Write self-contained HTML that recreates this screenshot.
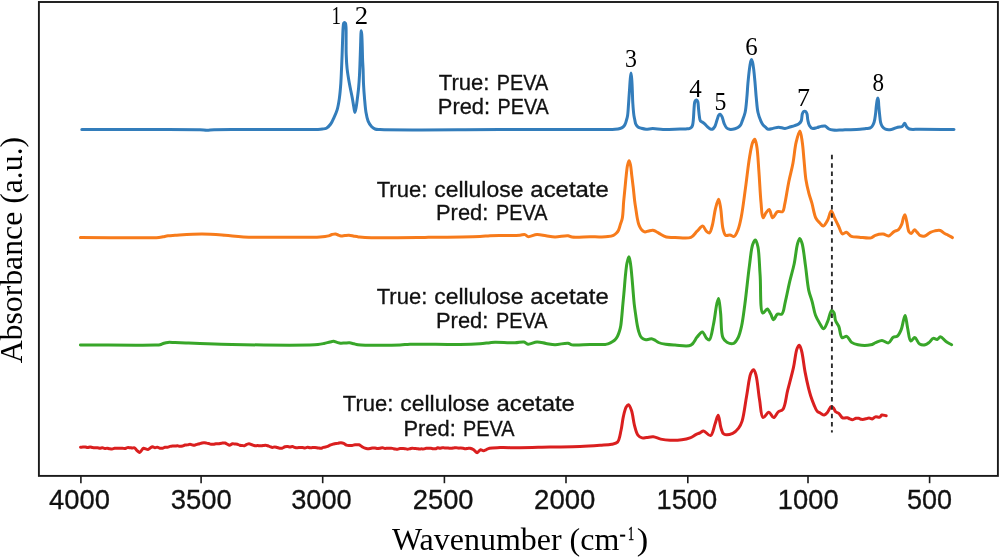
<!DOCTYPE html>
<html><head><meta charset="utf-8"><title>FTIR spectra</title>
<style>html,body{margin:0;padding:0;background:#fff;width:1000px;height:557px;overflow:hidden;font-family:"Liberation Sans",sans-serif}svg{display:block;will-change:transform}</style>
</head><body>
<svg width="1000" height="557" viewBox="0 0 1000 557"><rect x="0" y="0" width="1000" height="557" fill="#fff"/>
<path d="M81.8,129.6 C104.53,129.6 129.03,129.56 150,129.6 C167.96,129.64 190.93,129.52 200,129.8 C203.4,129.9 204.67,130.22 207,130.2 C209.33,130.18 210.64,129.82 214,129.7 C222.6,129.38 244.35,129.63 260,129.6 C276.32,129.57 300.48,129.57 310,129.5 C313.81,129.47 315.72,129.52 318,129.4 C319.72,129.31 321.06,129.21 322.5,129 C323.85,128.8 325.16,128.86 326.4,128.2 C327.92,127.39 329.45,125.71 330.7,124 C332.15,122.02 333.21,119.22 334.3,116.8 C335.37,114.42 336.4,112.32 337.2,109.6 C338.18,106.25 338.82,102.16 339.4,98.1 C340.05,93.58 340.45,88.5 340.8,83.7 C341.15,78.93 341.28,74.18 341.5,69.4 C341.72,64.61 341.92,59.85 342.1,55 C342.29,50.05 342.42,44.72 342.6,40 C342.76,35.78 342.84,31.1 343.1,28 C343.26,26.04 343.26,24.09 343.7,23.2 C343.91,22.77 344.22,22.41 344.5,22.4 C344.79,22.39 345.17,22.77 345.4,23.2 C345.82,23.96 345.86,25.35 346,27 C346.25,30.03 346.07,35.56 346.1,40 C346.13,44.68 346.03,49.61 346.2,54.4 C346.37,59.18 346.59,63.94 347.1,68.7 C347.62,73.5 348.45,78.31 349.3,83.1 C350.15,87.91 351.4,93.19 352.2,97.5 C352.84,100.99 353.3,104.27 353.8,107 C354.18,109.09 354.5,112.49 354.9,112.5 C355.3,112.51 355.81,109.09 356.2,107 C356.71,104.27 357.1,100.67 357.5,97.5 C357.9,94.34 358.28,91.42 358.6,88 C358.97,84.01 359.25,79.49 359.5,75 C359.76,70.18 359.92,65 360.1,60 C360.28,55 360.46,49.5 360.6,45 C360.72,41.33 360.77,37.62 360.9,35 C360.99,33.3 361.05,30.81 361.2,30.8 C361.33,30.79 361.56,32.61 361.7,34 C361.96,36.56 362.06,41.05 362.2,45 C362.37,49.61 362.42,55.58 362.6,60 C362.74,63.5 362.96,65.94 363.1,69.4 C363.27,73.67 363.27,78.93 363.5,83.7 C363.73,88.49 364.08,93.3 364.5,98.1 C364.92,102.9 365.28,108.34 366,112.5 C366.56,115.76 367.04,118.6 368.1,121.1 C369.03,123.28 370.37,125.43 371.7,126.8 C372.72,127.85 373.72,128.53 375,129 C376.44,129.53 377.22,129.43 380,129.6 C393.55,130.41 460.87,129.64 500,129.6 C537.46,129.57 597.11,129.54 610,129.4 C612.75,129.37 613.34,129.45 615,129.3 C616.67,129.15 618.57,128.96 620,128.5 C621.16,128.13 622.16,127.7 623,127 C623.86,126.28 624.53,125.28 625.1,124.2 C625.74,122.99 626.09,121.44 626.5,120 C626.93,118.51 627.29,117.32 627.6,115.4 C628.09,112.29 628.29,107.18 628.6,103 C628.92,98.72 629.22,94.05 629.5,90 C629.75,86.45 629.92,83.05 630.2,80 C630.43,77.43 630.73,72.9 631,72.9 C631.27,72.9 631.59,77.43 631.8,80 C632.05,83.05 632.14,86.45 632.3,90 C632.48,94.05 632.53,98.72 632.8,103 C633.07,107.19 633.46,112.28 633.9,115.4 C634.17,117.31 634.48,118.5 634.8,120 C635.11,121.44 635.22,123 635.8,124.2 C636.33,125.29 637.07,126.32 638,127 C638.94,127.69 640.16,127.95 641.4,128.3 C642.8,128.7 644.32,129.11 646,129.2 C648,129.3 650.15,128.62 652.6,128.6 C655.67,128.58 659.11,129.3 663,129.4 C667.97,129.53 675.78,129.08 680,129 C682.51,128.95 684.3,128.99 686,128.9 C687.26,128.83 688.34,128.91 689.3,128.6 C690.14,128.33 690.95,127.9 691.5,127.3 C692.05,126.7 692.32,125.94 692.6,125 C692.99,123.7 693.1,122.05 693.3,120.1 C693.6,117.23 693.74,112.61 694,109.4 C694.21,106.76 694.26,103.8 694.7,102.2 C694.94,101.34 695.21,100.64 695.6,100.3 C695.86,100.07 696.22,99.95 696.5,100 C696.79,100.05 697.08,100.31 697.3,100.6 C697.58,100.98 697.73,101.46 697.9,102.2 C698.25,103.72 698.35,107 698.6,109.4 C698.85,111.8 699.04,114.52 699.4,116.6 C699.68,118.23 699.72,119.93 700.4,120.9 C700.93,121.64 701.91,121.82 702.6,122.3 C703.24,122.75 703.75,123.12 704.4,123.7 C705.27,124.47 706.32,125.73 707.3,126.6 C708.22,127.41 709.17,128.38 710.1,128.8 C710.84,129.13 711.6,129.43 712.3,129.2 C713.19,128.91 714.09,127.76 714.8,126.6 C715.77,125 716.29,122.12 717,120.1 C717.62,118.32 718.05,116.04 718.8,115.1 C719.22,114.57 719.74,114.12 720.2,114.2 C720.82,114.31 721.45,115.53 722,116.6 C722.86,118.29 723.31,121.67 724.2,123.7 C724.93,125.36 725.67,127.06 726.7,128 C727.51,128.74 728.38,129.11 729.5,129.3 C731,129.56 733.48,129.17 735,128.8 C736.15,128.52 737.01,128.17 737.9,127.6 C738.85,126.99 739.8,126.2 740.5,125.2 C741.28,124.08 741.59,122.73 742.2,121.1 C743.07,118.77 744.36,115.78 745.1,112.5 C746.03,108.36 746.33,102.9 746.8,98.1 C747.27,93.3 747.47,88.49 747.9,83.7 C748.33,78.92 748.87,73.38 749.4,69.4 C749.78,66.52 750.14,63.82 750.6,62 C750.88,60.9 751.18,59.41 751.5,59.4 C751.82,59.39 752.2,60.89 752.5,62 C752.99,63.82 753.33,66.52 753.7,69.4 C754.22,73.38 754.67,78.92 755.1,83.7 C755.53,88.49 755.82,93.3 756.3,98.1 C756.78,102.9 757.07,108.36 758,112.5 C758.74,115.78 759.9,118.87 760.9,121.1 C761.58,122.63 762.18,123.75 763,124.8 C763.74,125.75 764.63,126.46 765.5,127.2 C766.36,127.93 767.11,128.94 768.2,129.2 C769.52,129.52 771.34,128.72 773,128.4 C774.8,128.06 776.67,127.22 778.6,127.2 C780.66,127.17 782.95,128.5 785,128.4 C786.94,128.31 788.89,127.3 790.6,126.8 C792.05,126.38 793.28,126.06 794.6,125.6 C795.94,125.13 797.49,124.79 798.6,124 C799.67,123.24 800.59,122.32 801.2,121 C802.02,119.24 801.76,115.69 802.3,114 C802.63,112.96 803,112.01 803.5,111.6 C803.82,111.33 804.22,111.3 804.6,111.3 C804.99,111.3 805.45,111.32 805.8,111.6 C806.31,112.01 806.69,112.99 807,114 C807.47,115.52 807.39,118.05 807.8,120 C808.2,121.91 808.54,124.14 809.4,125.6 C810.11,126.81 811.02,128.02 812.2,128.4 C813.5,128.82 815.48,127.95 817,127.6 C818.4,127.27 819.65,126.67 821,126.4 C822.32,126.14 823.73,125.65 825,126 C826.41,126.39 827.6,128.33 829,129 C830.28,129.61 831.47,129.8 833,130 C835,130.26 837.86,130.15 840,130.1 C841.81,130.06 842.89,129.9 845,129.8 C848.66,129.63 856.13,129.59 860,129.3 C862.45,129.12 864.2,128.84 866,128.6 C867.47,128.4 868.92,128.45 870,128 C870.87,127.63 871.48,127.15 872.1,126.4 C872.91,125.41 873.57,123.94 874.1,122.3 C874.81,120.12 875.13,116.98 875.5,114.3 C875.87,111.62 876.01,108.66 876.3,106.2 C876.55,104.13 876.79,102.02 877.1,100.5 C877.31,99.46 877.58,97.9 877.8,97.9 C878.02,97.9 878.24,99.46 878.4,100.5 C878.63,102.02 878.63,104.13 878.8,106.2 C879.01,108.66 879.3,111.61 879.6,114.3 C879.9,116.98 880.04,120.1 880.6,122.3 C881.01,123.92 881.39,125.24 882.2,126.4 C883,127.54 884.05,128.65 885.4,129.2 C887,129.85 889.41,129.8 891.4,129.5 C893.51,129.18 895.75,127.7 897.7,127.2 C899.3,126.79 901.02,127.2 902.2,126.5 C903.32,125.83 903.95,123.15 904.7,123.2 C905.45,123.25 905.87,125.81 906.7,126.8 C907.46,127.71 908.09,128.52 909.4,129 C911.69,129.84 915.47,129.13 920,129.2 C928.12,129.32 942.67,129.47 954,129.6" fill="none" stroke="#337dbb" stroke-width="3.0" stroke-linejoin="round" stroke-linecap="round"/>
<path d="M80.4,237.5 C106.6,237.5 149.37,238.34 159,237.5 C161.19,237.31 161.59,237.06 163,236.8 C164.58,236.5 166.19,236.05 168,235.8 C170.13,235.51 171.91,235.48 175,235.3 C181.07,234.94 193.36,233.98 202,234 C209.97,234.02 217.76,234.68 225,235.2 C231.51,235.67 235.44,236.51 243.5,236.9 C258.64,237.63 296.31,237.29 309,237.2 C314.2,237.16 316.57,237.25 320,237 C323.05,236.78 326.42,236.48 328.6,235.9 C330.02,235.52 330.84,234.83 332,234.5 C333.14,234.17 334.4,233.77 335.5,233.9 C336.56,234.03 337.53,234.86 338.5,235.2 C339.36,235.51 340.06,235.82 341,235.9 C342.17,236 343.67,235.6 345,235.5 C346.33,235.4 347.6,235.21 349,235.3 C350.58,235.4 352.38,235.93 354,236.2 C355.54,236.46 356.86,236.7 358.5,236.9 C360.46,237.14 361.73,237.35 365,237.5 C374.9,237.95 405.44,237.58 425,237.4 C443.73,237.23 469.04,237.03 480,236.5 C484.68,236.27 486.33,235.87 490,235.7 C494.49,235.49 500,235.58 505,235.5 C510,235.42 516.34,235.46 520,235.2 C522.12,235.05 523.6,234.26 525,234.6 C526.19,234.88 526.66,236.35 528,236.6 C530.14,237 533.99,234.73 537,234.6 C539.99,234.47 543,235.42 546,235.8 C549,236.18 551.72,236.84 555,236.9 C558.93,236.97 564.93,235.45 568,235.8 C569.74,236 570.16,236.82 572,237.1 C575.81,237.67 584.88,236.82 590,236.8 C593.82,236.79 596.85,236.94 600,236.9 C602.82,236.86 605.61,236.93 608,236.6 C609.99,236.33 611.91,236 613.4,235.3 C614.65,234.72 615.63,233.88 616.5,233 C617.32,232.17 617.91,231.37 618.5,230.2 C619.31,228.59 619.85,226.02 620.5,224 C621.12,222.06 621.82,220.74 622.3,218.3 C623.11,214.16 623.22,206.53 623.7,201.2 C624.12,196.51 624.58,192.33 625,188 C625.41,183.8 625.75,179.57 626.2,175.6 C626.62,171.92 626.95,167.7 627.6,165 C628.02,163.25 628.62,160.79 629.1,160.8 C629.58,160.81 630.11,163.26 630.5,165 C631.11,167.71 631.35,171.93 631.8,175.6 C632.28,179.57 632.82,183.8 633.3,188 C633.79,192.33 634.2,197.25 634.7,201.2 C635.11,204.43 635.56,207.11 636,210 C636.43,212.81 636.79,215.74 637.3,218.3 C637.74,220.53 638.16,222.69 638.8,224.5 C639.33,226.01 639.94,227.37 640.7,228.5 C641.37,229.49 642.2,230.42 643,231 C643.64,231.46 644.23,231.83 645,231.9 C645.99,231.99 647.28,231.27 648.5,231 C649.83,230.7 651.4,230.08 652.7,230.2 C653.88,230.31 654.91,230.96 656,231.5 C657.17,232.08 658.12,232.84 659.5,233.6 C661.38,234.63 663.82,236.35 666.3,237 C668.95,237.69 671.67,237.32 675,237.4 C679.51,237.5 687.04,239 690.9,237.4 C693.76,236.21 695.06,233.14 697.1,231.2 C698.99,229.39 701.1,225.94 702.7,226.1 C704.16,226.25 705.08,230.04 706.4,231.2 C707.39,232.07 708.63,233.23 709.5,232.9 C710.85,232.39 711.53,228.16 712.4,225 C713.63,220.54 714.29,213.18 715.5,208.5 C716.43,204.92 717.73,199.16 718.6,199.2 C719.46,199.24 720.06,204.77 720.7,208.5 C721.64,214.02 721.8,224.38 723.1,229.2 C723.84,231.94 724.41,234.58 725.8,235.4 C726.9,236.05 728.63,234.84 730,235 C731.39,235.16 732.89,236.86 734.1,236.4 C735.77,235.77 737.07,232.01 738.2,229.2 C739.6,225.71 740.31,221.83 741.3,216.8 C742.8,209.2 744.14,197.71 745.5,187.9 C746.91,177.75 748.15,165.27 749.6,156.9 C750.6,151.14 751.43,145.39 752.7,142.4 C753.34,140.9 754.19,139.2 754.8,139.3 C755.66,139.44 756.23,143.35 756.8,146.5 C757.83,152.26 758.23,162.57 758.9,171.3 C759.64,181.05 760.16,193.75 761,202.3 C761.6,208.36 761.72,217.53 763,217.8 C763.8,217.97 764.97,214.05 766.1,212.6 C767.06,211.36 768.26,209.32 769.2,209.5 C770.55,209.76 771.25,217.61 772.7,217.8 C774.05,217.98 775.62,212.52 777.5,211.6 C779.02,210.86 781.41,212.49 782.6,211.6 C784.05,210.52 783.97,207.5 784.7,204.4 C785.98,198.97 787.34,188.89 788.8,181.7 C790.13,175.15 791.8,169.41 793,163 C794.25,156.32 794.71,148.21 796.1,142.4 C797.16,137.99 798.86,130.94 799.9,131 C800.92,131.06 801.65,138.18 802.3,142.4 C803.09,147.57 803.42,153.82 804,159.8 C804.62,166.16 804.97,173.53 805.9,179.5 C806.69,184.56 807.8,189.19 808.9,193.4 C809.83,196.97 810.87,199.59 811.9,203.2 C813.16,207.62 814.04,214.5 815.8,218 C816.94,220.27 818.44,221.6 819.8,223 C820.95,224.19 822.14,226.13 823.3,226 C824.78,225.83 826.44,222.29 827.7,220 C829.13,217.4 829.98,211.15 831.2,211.1 C832.29,211.05 833.43,215.61 834.6,218 C835.86,220.57 837.18,223.35 838.5,226 C839.82,228.65 840.84,233.28 842.5,233.9 C843.64,234.33 845.08,232.1 846.4,232.3 C848.04,232.55 849.4,235.57 851.4,236.4 C853.62,237.32 856.41,236.97 859.3,237.2 C862.82,237.48 868.11,238.6 871,237.9 C872.91,237.44 873.66,235.94 875.4,235.3 C877.55,234.51 880.77,233.79 883.1,234 C885.11,234.18 886.84,236.29 888.6,236 C890.53,235.68 892.3,232.7 894.1,231.6 C895.59,230.68 897.27,230.7 898.5,229.6 C899.92,228.34 900.97,226.08 901.8,224.1 C902.65,222.06 902.85,219.19 903.5,217.5 C903.93,216.37 904.46,214.75 904.9,214.8 C905.59,214.88 906.17,219.33 906.8,221.9 C907.54,224.92 907.83,229.96 909,231.8 C909.61,232.77 910.43,233.57 911.2,233.5 C912.23,233.4 913.43,229.84 914.5,229.8 C915.43,229.76 916.26,231.48 917.2,232.4 C918.25,233.43 919.19,235.11 920.5,235.7 C921.77,236.28 923.42,236.39 924.9,236 C926.71,235.53 928.62,233.27 930.4,232.4 C931.9,231.67 933.23,231.22 934.8,230.9 C936.51,230.55 938.64,230.05 940.3,230.5 C941.93,230.94 943.31,232.7 944.7,233.5 C945.85,234.17 946.83,234.49 948,235.1 C949.37,235.82 950.93,236.77 952.4,237.6" fill="none" stroke="#f77b1b" stroke-width="3.0" stroke-linejoin="round" stroke-linecap="round"/>
<path d="M80.4,344.9 C105.27,344.97 144.77,345.39 155,345.1 C157.65,345.02 158.45,345.15 160,344.8 C161.44,344.48 162.65,343.6 164,343.2 C165.32,342.81 166.47,342.53 168,342.4 C170,342.23 172.4,342.52 175,342.6 C178.25,342.71 182.11,342.86 186,343 C190.39,343.16 194.38,343.31 200,343.5 C208.49,343.78 219.03,344.26 232,344.5 C252.12,344.88 295.92,345.25 309,345 C313.47,344.92 315.31,344.9 318,344.6 C320.21,344.35 322.01,343.93 324,343.5 C326.01,343.07 328.26,342.39 330,342 C331.32,341.7 332.34,341.24 333.5,341.3 C334.67,341.36 335.83,342.08 337,342.4 C338.16,342.71 339.25,343.09 340.5,343.2 C341.9,343.33 343.5,343.07 345,343 C346.5,342.93 348.01,342.67 349.5,342.8 C351.01,342.93 352.54,343.47 354,343.8 C355.37,344.11 355.94,344.46 358,344.7 C364.58,345.46 390.82,345.33 400,345 C404.49,344.84 405.39,344.37 410,344.2 C420.3,343.83 447.09,344.81 460,344.6 C468.17,344.47 474.48,344.21 480,343.8 C483.91,343.51 487.24,342.96 490,342.7 C491.95,342.51 492.78,342.36 495,342.3 C499.44,342.18 509.65,342.97 515,342.8 C518.59,342.69 521.66,341.51 524,342 C525.67,342.35 526.35,343.98 528,344.2 C530.35,344.51 533.99,342.13 537,342 C539.99,341.87 543,342.95 546,343.4 C549,343.85 551.72,344.65 555,344.7 C558.93,344.76 564.95,342.76 568,343.2 C569.76,343.45 570.13,344.54 572,344.9 C575.8,345.63 584.27,344.58 590,344.5 C595.23,344.42 601.92,344.67 605,344.4 C606.39,344.28 606.92,344.25 608,343.9 C609.42,343.44 611.38,342.47 612.7,341.6 C613.81,340.87 614.7,340.11 615.5,339.2 C616.29,338.3 616.89,337.38 617.5,336.2 C618.26,334.74 618.95,332.79 619.5,331 C620.06,329.19 620.39,327.89 620.8,325.4 C621.59,320.57 622.29,310.29 622.9,303.9 C623.39,298.76 623.79,294.57 624.2,290 C624.59,285.57 624.84,281.33 625.3,276.9 C625.77,272.33 626.22,266.68 627,263 C627.53,260.49 628.33,256.78 628.9,256.8 C629.46,256.82 629.97,260.5 630.4,263 C631.04,266.69 631.46,272.33 631.9,276.9 C632.32,281.33 632.62,285.57 633,290 C633.39,294.56 633.72,299.53 634.2,303.9 C634.63,307.81 635.17,311.36 635.7,315 C636.21,318.53 636.73,322.4 637.3,325.4 C637.74,327.71 638.13,329.62 638.7,331.5 C639.21,333.19 639.69,334.93 640.5,336.2 C641.18,337.28 642.05,338.2 643,338.8 C643.87,339.36 644.91,339.73 645.9,339.8 C646.91,339.87 647.95,339.35 649,339.2 C650.05,339.05 651.15,338.71 652.2,338.9 C653.32,339.1 654.45,339.9 655.5,340.5 C656.55,341.1 657.22,341.94 658.5,342.5 C660.33,343.31 663.13,343.88 665.7,344.3 C668.58,344.77 671.48,344.85 675,345 C679.59,345.2 687.11,347.04 690.9,345.2 C693.94,343.72 695.05,339.44 697.1,337.1 C698.84,335.11 700.75,331.74 702.3,331.9 C703.86,332.06 705,336.74 706.4,338.1 C707.35,339.02 708.44,340.24 709.3,339.9 C711.19,339.15 712.3,329.79 713.5,324.2 C714.85,317.92 715.69,308.62 716.8,304 C717.4,301.53 718.07,298.35 718.6,298.4 C719.44,298.47 719.97,307.49 720.6,313 C721.42,320.15 720.83,332.94 722.9,337.7 C723.92,340.04 725.19,341.26 726.9,342.2 C728.73,343.21 731.84,344.03 733.7,343.3 C735.59,342.56 736.89,340.02 738.1,337.7 C739.65,334.72 740.5,330.92 741.5,326.5 C742.89,320.34 743.76,312.49 744.9,304 C746.38,292.97 747.92,276.76 749.4,265.9 C750.51,257.76 751.12,248.98 752.7,244.6 C753.48,242.44 754.59,240.03 755.4,240.1 C756.35,240.19 757.22,243.73 757.9,246.8 C759.25,252.89 759.35,264.82 760.1,274.9 C760.98,286.63 759.84,311.79 762.8,313 C763.98,313.48 765.99,308.83 767.3,309 C768.62,309.17 769.66,312.33 770.7,314.1 C771.76,315.9 772.51,319.64 773.6,319.7 C774.73,319.77 775.82,314.94 777.4,314.1 C778.69,313.42 780.71,315.01 781.9,314.1 C783.91,312.57 784.16,306.42 785.3,301.8 C786.75,295.91 788.17,288.12 789.7,281.6 C791.14,275.44 792.91,269.87 794.2,263.7 C795.56,257.2 796.28,247.92 797.6,243.5 C798.28,241.22 799.05,238.51 799.8,238.5 C800.55,238.49 801.4,241.17 802.1,243.5 C803.52,248.23 804.41,258.25 805.5,265.9 C806.65,273.93 807.37,284.02 808.8,290.6 C809.78,295.11 811.13,297.88 812.2,301.8 C813.37,306.07 814.06,311.47 815.5,315.3 C816.65,318.36 818.15,320.84 819.6,323.2 C820.87,325.28 822.32,328.87 823.6,328.8 C825,328.72 826.37,324.32 827.6,321.6 C829.08,318.33 830.16,310.72 831.6,310.4 C832.37,310.23 833.38,311.64 834,312.8 C834.96,314.6 834.71,318.43 835.6,320.8 C836.39,322.9 837.85,324.14 838.8,326.4 C840.08,329.43 840.1,336.53 842,337.6 C843.24,338.3 845.34,335.82 846.8,336.3 C848.62,336.9 849.65,340.98 851.6,342.4 C853.43,343.74 855.45,344.34 858,344.8 C861.49,345.43 867.61,345.47 870.8,344.8 C872.84,344.37 873.87,343.37 875.6,342.7 C877.57,341.93 879.87,340.47 882,340.5 C884.14,340.53 886.56,343.37 888.4,342.9 C890.31,342.41 891.5,338.35 893.2,337.3 C894.47,336.51 896.02,337.18 897.2,336.3 C898.82,335.09 900.16,332.12 901.2,329.6 C902.37,326.76 902.82,322.59 903.6,320 C904.14,318.2 904.68,315.46 905.2,315.5 C906.04,315.56 906.68,323.8 907.6,328 C908.54,332.33 909.08,340.56 910.8,341.1 C911.88,341.44 913.48,337.46 914.8,337.6 C916.42,337.77 917.66,342.85 919.6,344 C921.23,344.96 923.54,345.13 925.2,344.8 C926.71,344.5 927.92,343.4 929.2,342.4 C930.6,341.3 931.75,338.78 933.2,338.4 C934.44,338.07 936,339.76 937.2,339.5 C938.4,339.24 939.19,336.8 940.4,336.8 C942.01,336.81 944.07,340.24 946,341.6 C947.81,342.87 949.73,343.73 951.6,344.8" fill="none" stroke="#38a629" stroke-width="3.0" stroke-linejoin="round" stroke-linecap="round"/>
<path d="M80.5,447.2 C81.3,447.16 82.1,447.11 82.9,447.07 C83.7,447.02 84.51,446.86 85.3,446.94 C86.11,447.01 86.9,447.54 87.7,447.55 C88.5,447.55 89.3,446.98 90.1,446.97 C90.9,446.96 91.69,447.37 92.5,447.5 C93.32,447.64 94.17,447.72 95,447.77 C95.83,447.83 96.67,447.75 97.5,447.82 C98.34,447.89 99.17,448.19 100,448.2 C100.81,448.21 101.61,447.82 102.4,447.87 C103.21,447.93 103.99,448.48 104.8,448.53 C105.6,448.58 106.4,448.13 107.2,448.17 C108,448.21 108.79,448.63 109.6,448.77 C110.4,448.9 111.19,449.06 112,449 C112.86,448.93 113.74,448.47 114.62,448.33 C115.49,448.19 116.37,448.15 117.25,448.15 C118.12,448.15 119,448.31 119.88,448.32 C120.75,448.33 121.65,448.17 122.5,448.2 C123.32,448.23 124.11,448.57 124.9,448.48 C125.71,448.39 126.49,447.76 127.3,447.63 C128.09,447.5 128.9,447.59 129.7,447.66 C130.5,447.72 131.3,448 132.1,448.02 C132.9,448.04 133.75,447.51 134.5,447.8 C135.44,448.16 136.19,449.8 137.1,450.59 C137.93,451.31 138.8,452.5 139.7,452.4 C140.91,452.26 142.3,448.53 143.5,448.2 C144.28,447.99 145,448.68 145.75,448.88 C146.5,449.08 147.28,449.53 148,449.4 C148.78,449.26 149.49,448.39 150.25,447.94 C150.99,447.49 151.72,446.74 152.5,446.7 C153.3,446.65 154.15,447.65 155,447.72 C155.82,447.8 156.68,447.13 157.5,447.2 C158.34,447.27 159.15,448.03 160,448.2 C160.82,448.37 161.68,448.4 162.5,448.26 C163.35,448.11 164.15,447.48 165,447.3 C165.82,447.13 166.68,447.34 167.5,447.2 C168.34,447.05 169.16,446.61 170,446.41 C170.83,446.21 171.66,446.05 172.5,445.98 C173.33,445.91 174.17,446.03 175,446 C175.83,445.97 176.67,445.73 177.5,445.79 C178.34,445.85 179.16,446.31 180,446.35 C180.83,446.38 181.68,446.21 182.5,446 C183.35,445.78 184.15,445.23 185,445.05 C185.82,444.87 186.67,445.03 187.5,444.89 C188.34,444.75 189.19,444.19 190,444.2 C190.77,444.21 191.49,444.69 192.25,444.85 C192.99,445.02 193.74,445.27 194.5,445.2 C195.32,445.12 196.16,444.56 197,444.33 C197.83,444.09 198.67,444.01 199.5,443.79 C200.34,443.56 201.18,443.16 202,443 C202.76,442.85 203.5,442.8 204.25,442.82 C205,442.84 205.75,442.99 206.5,443.12 C207.25,443.24 208,443.4 208.75,443.58 C209.5,443.76 210.22,444.09 211,444.2 C211.8,444.31 212.67,444.3 213.5,444.23 C214.34,444.16 215.16,443.88 216,443.79 C216.83,443.7 217.62,443.79 218.5,443.7 C219.52,443.6 220.66,443.26 221.75,443.15 C222.83,443.03 224.04,442.78 225,443 C225.85,443.19 226.49,443.82 227.25,444.19 C227.99,444.56 228.7,445.22 229.5,445.2 C230.43,445.18 231.53,443.86 232.5,443.7 C233.32,443.57 234.1,443.95 234.9,444.05 C235.7,444.14 236.51,444.09 237.3,444.28 C238.11,444.47 238.89,445.02 239.7,445.22 C240.49,445.42 241.3,445.44 242.1,445.52 C242.9,445.6 243.74,445.87 244.5,445.7 C245.29,445.52 245.98,444.76 246.75,444.42 C247.48,444.1 248.2,443.69 249,443.7 C249.93,443.72 251,444.45 252,444.78 C253,445.11 254.02,445.57 255,445.7 C255.89,445.82 256.75,445.58 257.62,445.6 C258.5,445.63 259.38,445.87 260.25,445.86 C261.13,445.86 262,445.69 262.88,445.58 C263.75,445.47 264.66,445.17 265.5,445.2 C266.28,445.23 267.01,445.47 267.75,445.72 C268.51,445.97 269.23,446.4 270,446.7 C270.78,447 271.6,447.5 272.4,447.53 C273.2,447.56 274,446.88 274.8,446.88 C275.6,446.88 276.4,447.29 277.2,447.51 C278,447.73 278.79,448.07 279.6,448.18 C280.39,448.29 281.18,448.39 282,448.2 C282.97,447.97 284.02,446.98 285,446.7 C285.85,446.45 286.67,446.41 287.5,446.45 C288.34,446.49 289.16,446.93 290,446.95 C290.83,446.98 291.68,446.52 292.5,446.59 C293.34,446.67 294.16,447.24 295,447.42 C295.82,447.59 296.67,447.64 297.5,447.66 C298.33,447.67 299.17,447.51 300,447.5 C300.83,447.49 301.67,447.51 302.5,447.58 C303.34,447.65 304.17,447.96 305,447.91 C305.84,447.87 306.66,447.33 307.5,447.3 C308.33,447.26 309.16,447.66 310,447.71 C310.83,447.77 311.67,447.64 312.5,447.6 C313.33,447.57 314.13,447.46 315,447.5 C315.96,447.55 317,447.82 318,447.94 C319,448.05 320.08,448.32 321,448.2 C321.82,448.1 322.49,447.59 323.25,447.4 C323.99,447.22 324.76,447.23 325.5,447.07 C326.26,446.91 327.02,446.74 327.75,446.44 C328.52,446.12 329.24,445.54 330,445.2 C330.74,444.87 331.5,444.67 332.25,444.42 C333,444.17 333.67,443.87 334.5,443.7 C335.47,443.5 336.67,443.55 337.75,443.38 C338.84,443.21 339.97,442.67 341,442.7 C341.96,442.73 342.86,443.07 343.75,443.47 C344.7,443.89 345.54,444.85 346.5,445.2 C347.38,445.52 348.33,445.52 349.25,445.57 C350.16,445.62 351.07,445.62 352,445.5 C352.98,445.37 353.92,444.92 355,444.8 C356.23,444.66 357.81,444.46 359,444.8 C360.12,445.12 360.99,446.09 362,446.66 C362.99,447.22 364.02,447.85 365,448.2 C365.85,448.5 366.66,448.68 367.5,448.74 C368.33,448.8 369.17,448.68 370,448.55 C370.84,448.42 371.66,448.04 372.5,447.96 C373.33,447.89 374.17,448 375,448.07 C375.83,448.14 376.67,448.36 377.5,448.39 C378.33,448.41 379.17,448.3 380,448.2 C380.84,448.1 381.67,447.77 382.5,447.81 C383.34,447.84 384.16,448.35 385,448.42 C385.83,448.49 386.67,448.25 387.5,448.23 C388.33,448.22 389.17,448.29 390,448.31 C390.83,448.34 391.67,448.27 392.5,448.38 C393.34,448.5 394.16,448.86 395,449 C395.83,449.14 396.67,449.33 397.5,449.25 C398.34,449.16 399.16,448.6 400,448.49 C400.82,448.38 401.67,448.54 402.5,448.57 C403.33,448.6 404.17,448.58 405,448.68 C405.84,448.78 406.67,449.16 407.5,449.16 C408.33,449.16 409.18,448.86 410,448.7 C410.79,448.54 411.54,448.22 412.31,448.2 C413.07,448.18 413.84,448.49 414.62,448.57 C415.38,448.64 416.16,448.57 416.92,448.64 C417.69,448.71 418.46,448.93 419.23,448.97 C420,449 420.77,448.88 421.54,448.86 C422.31,448.84 423.08,448.98 423.85,448.87 C424.62,448.76 425.38,448.28 426.15,448.19 C426.92,448.1 427.69,448.3 428.46,448.3 C429.23,448.3 430,448.13 430.77,448.2 C431.54,448.27 432.3,448.64 433.08,448.74 C433.84,448.83 434.63,448.92 435.38,448.78 C436.17,448.64 436.91,447.95 437.69,447.85 C438.45,447.77 439.23,448.2 440,448.2 C440.77,448.2 441.54,447.89 442.31,447.84 C443.07,447.8 443.85,447.89 444.62,447.91 C445.38,447.92 446.16,447.86 446.92,447.91 C447.69,447.95 448.46,448.12 449.23,448.18 C450,448.25 450.77,448.34 451.54,448.3 C452.31,448.26 453.08,448.05 453.85,447.94 C454.61,447.83 455.39,447.63 456.15,447.65 C456.93,447.68 457.69,448.04 458.46,448.11 C459.23,448.18 460,448.03 460.77,448.06 C461.54,448.08 462.31,448.17 463.08,448.27 C463.85,448.38 464.61,448.68 465.38,448.7 C466.15,448.72 466.92,448.49 467.69,448.41 C468.46,448.33 469.16,448.07 470,448.2 C471.11,448.36 472.54,448.99 473.7,449.7 C474.95,450.46 476.06,452.72 477.2,452.7 C478.32,452.68 479.36,449.92 480.5,449.7 C481.47,449.51 482.51,450.83 483.5,450.8 C484.51,450.77 485.5,449.95 486.5,449.52 C487.5,449.08 488.16,448.52 489.5,448.2 C491.9,447.62 495.94,447.71 500,447.6 C505.6,447.45 512.66,447.76 520,447.7 C528.99,447.63 540,447.28 550,447.1 C560,446.92 571.01,446.97 580,446.6 C587.34,446.3 594.22,445.76 600,445.3 C604.42,444.95 608.51,444.91 611.7,444.2 C614.01,443.68 616.03,443.66 617.5,442.1 C619.57,439.92 620.04,434.59 621,430.5 C622.04,426.06 622.42,420.59 623.4,416.4 C624.21,412.95 625.02,409.08 626.2,407.1 C626.88,405.96 627.76,404.68 628.5,404.8 C629.55,404.96 630.63,408.13 631.5,410.6 C632.84,414.4 633.37,421.39 634.6,425.8 C635.58,429.32 636.3,433.05 637.9,435.1 C639.04,436.57 640.6,437.51 642.1,437.9 C643.54,438.27 645.03,437.66 646.7,437.5 C648.7,437.31 651.06,436.58 653.3,436.8 C655.72,437.04 658.06,438.53 660.7,439.1 C663.62,439.74 666.79,440.16 670.1,440.3 C673.78,440.46 678.27,440.28 681.8,439.8 C684.8,439.39 687.56,438.83 690,437.9 C692.16,437.07 694.01,435.6 695.8,434.7 C697.3,433.95 698.68,433.46 700,432.8 C701.23,432.19 702.16,430.84 703.5,430.9 C705.46,430.99 708.64,436.18 710.5,435.6 C712.8,434.88 713.82,427.15 715.2,423.5 C716.33,420.51 717.31,415.24 718.2,415.3 C719.29,415.37 719.84,424.7 721,428.1 C721.82,430.5 722.13,433.03 723.8,434 C725.76,435.13 730.18,434.37 732.7,433.3 C735.06,432.3 737.03,430.14 738.6,428.1 C740.16,426.07 741.05,424.27 742.1,421.1 C744.02,415.32 745.18,403.65 746.7,395.4 C748.11,387.73 749.02,377.29 750.9,373.2 C751.74,371.38 752.89,369.58 753.7,369.7 C754.67,369.84 755.37,372.9 756.1,375.6 C757.54,380.92 758.32,392.63 759.6,400.1 C760.69,406.44 760.89,416.89 763.1,417.6 C764.57,418.07 767.11,412.11 768.9,412.2 C770.6,412.29 772.05,417.63 773.6,417.6 C775.18,417.57 776.58,413.2 778.3,411.8 C779.73,410.63 781.61,411.03 782.9,409.4 C785.38,406.26 785.94,397.27 787.6,390.7 C789.45,383.36 791.88,374.76 793.5,367.4 C794.94,360.85 795.52,352.38 797,348.7 C797.7,346.97 798.6,345.13 799.3,345.2 C800.16,345.29 800.88,348.41 801.6,351 C802.93,355.79 803.85,365.53 805.1,372.1 C806.2,377.9 807.5,383.97 808.6,388.4 C809.37,391.49 809.94,393.55 810.8,396.2 C811.72,399.02 812.86,402.16 814,404.8 C815.01,407.15 815.87,409.88 817.2,411.3 C818.16,412.33 819.36,412.59 820.5,413.2 C821.69,413.83 823.04,415.14 824.2,415 C825.38,414.86 826.45,413.48 827.5,412.3 C828.85,410.79 830.05,406.59 831.3,406.4 C832.17,406.27 833.19,407.72 833.9,408.6 C834.63,409.51 834.78,411 835.6,411.8 C836.42,412.6 837.77,412.59 838.8,413.4 C840.12,414.44 841.34,417.31 842.6,417.9 C843.4,418.28 844.2,417.96 845,417.93 C845.8,417.9 846.62,417.56 847.4,417.7 C848.23,417.85 849.02,418.56 849.85,418.89 C850.66,419.22 851.4,419.72 852.3,419.7 C853.41,419.68 854.85,418.51 856,418.3 C856.95,418.13 857.81,418.15 858.7,418.31 C859.61,418.47 860.5,419.15 861.4,419.3 C862.24,419.45 863.09,419.38 863.93,419.27 C864.78,419.17 865.63,418.9 866.47,418.67 C867.31,418.45 868.11,417.88 869,417.9 C870.01,417.92 871.16,419.13 872.2,419 C873.3,418.86 874.2,417.21 875.4,416.9 C876.68,416.57 878.57,417.62 879.7,417.2 C880.66,416.84 880.95,415.29 881.9,415 C883.03,414.65 884.77,415.53 886.2,415.8" fill="none" stroke="#da1f1f" stroke-width="3.0" stroke-linejoin="round" stroke-linecap="round"/>
<line x1="831.9" y1="154.8" x2="831.9" y2="432.5" stroke="#2b2b2b" stroke-width="1.9" stroke-dasharray="4.5 3.85"/>
<rect x="38.9" y="2" width="959" height="473.9" fill="none" stroke="#1a1a1a" stroke-width="1.9"/>
<line x1="80.9" y1="475.9" x2="80.9" y2="483.2" stroke="#1a1a1a" stroke-width="1.6"/>
<line x1="201.1" y1="475.9" x2="201.1" y2="483.2" stroke="#1a1a1a" stroke-width="1.6"/>
<line x1="322.7" y1="475.9" x2="322.7" y2="483.2" stroke="#1a1a1a" stroke-width="1.6"/>
<line x1="444.4" y1="475.9" x2="444.4" y2="483.2" stroke="#1a1a1a" stroke-width="1.6"/>
<line x1="566.0" y1="475.9" x2="566.0" y2="483.2" stroke="#1a1a1a" stroke-width="1.6"/>
<line x1="687.8" y1="475.9" x2="687.8" y2="483.2" stroke="#1a1a1a" stroke-width="1.6"/>
<line x1="808.0" y1="475.9" x2="808.0" y2="483.2" stroke="#1a1a1a" stroke-width="1.6"/>
<line x1="929.6" y1="475.9" x2="929.6" y2="483.2" stroke="#1a1a1a" stroke-width="1.6"/>
<text x="49.10" y="508.95000000000005" font-family="Liberation Sans" font-size="27.2" textLength="60.87" lengthAdjust="spacingAndGlyphs" fill="#111" stroke="#111" stroke-width="0.3">4000</text>
<text x="170.75" y="508.95000000000005" font-family="Liberation Sans" font-size="27.2" textLength="61.02" lengthAdjust="spacingAndGlyphs" fill="#111" stroke="#111" stroke-width="0.3">3500</text>
<text x="291.26" y="508.95000000000005" font-family="Liberation Sans" font-size="27.2" textLength="60.50" lengthAdjust="spacingAndGlyphs" fill="#111" stroke="#111" stroke-width="0.3">3000</text>
<text x="412.78" y="508.95000000000005" font-family="Liberation Sans" font-size="27.2" textLength="60.79" lengthAdjust="spacingAndGlyphs" fill="#111" stroke="#111" stroke-width="0.3">2500</text>
<text x="534.07" y="508.95000000000005" font-family="Liberation Sans" font-size="27.2" textLength="61.31" lengthAdjust="spacingAndGlyphs" fill="#111" stroke="#111" stroke-width="0.3">2000</text>
<text x="656.47" y="508.95000000000005" font-family="Liberation Sans" font-size="27.2" textLength="60.70" lengthAdjust="spacingAndGlyphs" fill="#111" stroke="#111" stroke-width="0.3">1500</text>
<text x="777.87" y="508.95000000000005" font-family="Liberation Sans" font-size="27.2" textLength="60.70" lengthAdjust="spacingAndGlyphs" fill="#111" stroke="#111" stroke-width="0.3">1000</text>
<text x="907.07" y="508.95000000000005" font-family="Liberation Sans" font-size="27.2" textLength="45.02" lengthAdjust="spacingAndGlyphs" fill="#111" stroke="#111" stroke-width="0.3">500</text>
<text x="438.81" y="90.05" font-family="Liberation Sans" font-size="21.6" textLength="50.66" lengthAdjust="spacingAndGlyphs" fill="#111" stroke="#111" stroke-width="0.3">True:</text>
<text x="496.86" y="90.05" font-family="Liberation Sans" font-size="21.6" textLength="51.46" lengthAdjust="spacingAndGlyphs" fill="#111" stroke="#111" stroke-width="0.3">PEVA</text>
<text x="437.80" y="113.75" font-family="Liberation Sans" font-size="21.6" textLength="52.33" lengthAdjust="spacingAndGlyphs" fill="#111" stroke="#111" stroke-width="0.3">Pred:</text>
<text x="497.47" y="113.75" font-family="Liberation Sans" font-size="21.6" textLength="51.36" lengthAdjust="spacingAndGlyphs" fill="#111" stroke="#111" stroke-width="0.3">PEVA</text>
<text x="376.71" y="196.95" font-family="Liberation Sans" font-size="21.6" textLength="50.55" lengthAdjust="spacingAndGlyphs" fill="#111" stroke="#111" stroke-width="0.3">True:</text>
<text x="434.23" y="196.95" font-family="Liberation Sans" font-size="21.6" textLength="89.16" lengthAdjust="spacingAndGlyphs" fill="#111" stroke="#111" stroke-width="0.3">cellulose</text>
<text x="530.39" y="196.95" font-family="Liberation Sans" font-size="21.6" textLength="78.42" lengthAdjust="spacingAndGlyphs" fill="#111" stroke="#111" stroke-width="0.3">acetate</text>
<text x="436.00" y="220.45" font-family="Liberation Sans" font-size="21.6" textLength="52.33" lengthAdjust="spacingAndGlyphs" fill="#111" stroke="#111" stroke-width="0.3">Pred:</text>
<text x="495.96" y="220.45" font-family="Liberation Sans" font-size="21.6" textLength="51.46" lengthAdjust="spacingAndGlyphs" fill="#111" stroke="#111" stroke-width="0.3">PEVA</text>
<text x="376.71" y="303.85" font-family="Liberation Sans" font-size="21.6" textLength="50.55" lengthAdjust="spacingAndGlyphs" fill="#111" stroke="#111" stroke-width="0.3">True:</text>
<text x="434.23" y="303.85" font-family="Liberation Sans" font-size="21.6" textLength="89.16" lengthAdjust="spacingAndGlyphs" fill="#111" stroke="#111" stroke-width="0.3">cellulose</text>
<text x="530.39" y="303.85" font-family="Liberation Sans" font-size="21.6" textLength="78.42" lengthAdjust="spacingAndGlyphs" fill="#111" stroke="#111" stroke-width="0.3">acetate</text>
<text x="436.00" y="327.55" font-family="Liberation Sans" font-size="21.6" textLength="52.33" lengthAdjust="spacingAndGlyphs" fill="#111" stroke="#111" stroke-width="0.3">Pred:</text>
<text x="495.96" y="327.55" font-family="Liberation Sans" font-size="21.6" textLength="51.46" lengthAdjust="spacingAndGlyphs" fill="#111" stroke="#111" stroke-width="0.3">PEVA</text>
<text x="342.81" y="410.75" font-family="Liberation Sans" font-size="21.6" textLength="50.55" lengthAdjust="spacingAndGlyphs" fill="#111" stroke="#111" stroke-width="0.3">True:</text>
<text x="400.33" y="410.75" font-family="Liberation Sans" font-size="21.6" textLength="89.16" lengthAdjust="spacingAndGlyphs" fill="#111" stroke="#111" stroke-width="0.3">cellulose</text>
<text x="496.49" y="410.75" font-family="Liberation Sans" font-size="21.6" textLength="78.42" lengthAdjust="spacingAndGlyphs" fill="#111" stroke="#111" stroke-width="0.3">acetate</text>
<text x="403.40" y="435.75" font-family="Liberation Sans" font-size="21.6" textLength="52.33" lengthAdjust="spacingAndGlyphs" fill="#111" stroke="#111" stroke-width="0.3">Pred:</text>
<text x="462.96" y="435.75" font-family="Liberation Sans" font-size="21.6" textLength="51.46" lengthAdjust="spacingAndGlyphs" fill="#111" stroke="#111" stroke-width="0.3">PEVA</text>
<text x="331.50" y="23.9" font-family="Liberation Serif" font-size="25.76" textLength="9.43" lengthAdjust="spacingAndGlyphs" fill="#000">1</text>
<text x="354.73" y="23.9" font-family="Liberation Serif" font-size="26.15" textLength="13.37" lengthAdjust="spacingAndGlyphs" fill="#000">2</text>
<text x="625.10" y="67.44" font-family="Liberation Serif" font-size="25.76" textLength="11.95" lengthAdjust="spacingAndGlyphs" fill="#000">3</text>
<text x="689.20" y="96.5" font-family="Liberation Serif" font-size="25.85" textLength="12.50" lengthAdjust="spacingAndGlyphs" fill="#000">4</text>
<text x="714.48" y="110.25" font-family="Liberation Serif" font-size="25.0" textLength="11.88" lengthAdjust="spacingAndGlyphs" fill="#000">5</text>
<text x="745.30" y="55.39" font-family="Liberation Serif" font-size="25.52" textLength="12.44" lengthAdjust="spacingAndGlyphs" fill="#000">6</text>
<text x="796.98" y="105.8" font-family="Liberation Serif" font-size="26.15" textLength="13.00" lengthAdjust="spacingAndGlyphs" fill="#000">7</text>
<text x="872.58" y="91.18" font-family="Liberation Serif" font-size="25.82" textLength="11.55" lengthAdjust="spacingAndGlyphs" fill="#000">8</text>
<text x="392.00" y="550.0" font-family="Liberation Serif" font-size="32" textLength="227.27" lengthAdjust="spacingAndGlyphs" fill="#000">Wavenumber (cm</text>
<text x="619.51" y="540.05" font-family="Liberation Serif" font-size="19.5" textLength="6.15" lengthAdjust="spacingAndGlyphs" fill="#000" stroke="#000" stroke-width="0.5">-</text>
<text x="628.03" y="540.0749999999999" font-family="Liberation Serif" font-size="19.5" textLength="6.07" lengthAdjust="spacingAndGlyphs" fill="#000" stroke="#000" stroke-width="0.45">1</text>
<text x="636.86" y="550.0" font-family="Liberation Serif" font-size="32.5" textLength="11.53" lengthAdjust="spacingAndGlyphs" fill="#000">)</text>
<text transform="translate(21.7,363.32) rotate(-90)" x="0" y="0" font-family="Liberation Serif" font-size="31.7" textLength="226.47" lengthAdjust="spacingAndGlyphs" fill="#000">Absorbance (a.u.)</text></svg>
</body></html>
